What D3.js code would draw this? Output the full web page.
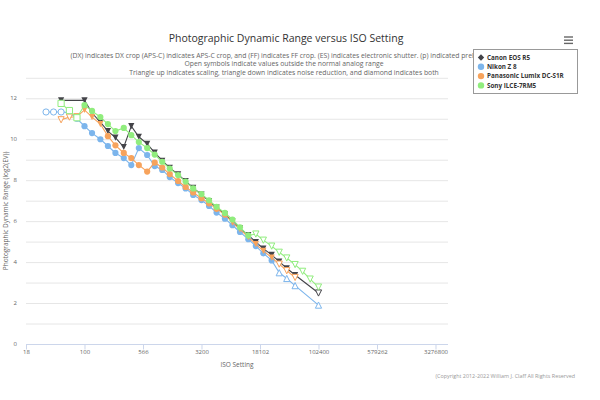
<!DOCTYPE html>
<html><head><meta charset="utf-8">
<script src="https://cdn.jsdelivr.net/npm/d3@7"></script>
<style>
html,body{margin:0;padding:0;background:#fff;}
svg{display:block;font-family:"Open Sans","DejaVu Sans",sans-serif;}
</style></head>
<body><svg id="c" width="600" height="400"></svg>
<script>
// ---------- data ----------
const isoSettings = [32,40,50,64,80,100,125,160,200,250,320,400,500,640,800,1000,1250,1600,2000,2500,3200,4000,5000,6400,8000,10000,12800,16000,20000,25600,32000,40000,51200,64000,80000,102400];

const seriesNames = ["Canon EOS R5","Nikon Z 8","Panasonic Lumix DC-S1R","Sony ILCE-7RM5"];
const seriesColors = ["#434348","#7cb5ec","#f7a35c","#90ed7d"];
const legendSymbols = ["d","c","c","c"];

const canonPDR = [null,null,11.9,null,null,11.9,11.28,10.84,10.4,10.08,9.62,10.64,10.12,9.77,9.35,8.95,8.6,8.28,7.95,7.62,7.3,6.98,6.66,6.33,6.0,5.65,5.32,4.98,4.66,4.35,4.02,3.7,3.37,null,null,2.49];
const canonMarks = [null,null,"td","","","td","td","td","td","td","td","td","td","td","td","td","td","td","td","td","td","td","td","td","td","td","td","td","td","td","td","td","td","","","otd"];

const nikonPDR = [11.33,11.33,11.33,11.3,11.0,10.64,10.3,10.0,9.67,9.33,9.08,8.74,9.57,9.23,8.69,8.5,8.15,7.86,7.6,7.28,7.03,6.74,6.42,6.12,5.8,5.47,5.12,4.78,4.43,4.08,3.48,3.2,2.85,null,null,1.9];
const nikonMarks = ["oc","oc","oc","c","c","c","c","c","c","c","c","c","c","c","c","c","c","c","c","c","c","c","c","c","c","c","c","c","c","c","otu","otu","otu","","","otu"];

const panasonicPDR = [null,null,10.95,11.08,11.1,11.43,11.08,10.74,10.15,9.7,9.33,9.08,8.74,8.42,8.86,8.62,8.3,7.96,7.67,7.4,7.12,6.87,6.6,6.32,5.93,5.6,5.22,4.88,4.55,4.22,3.9,3.58,3.25,null,null,null];
const panasonicMarks = ["","","otd","otd","otd","td","td","td","c","c","c","c","c","c","c","c","c","c","c","c","c","c","c","c","td","td","td","td","td","td","otd","otd","otd","","",""];

const sonyPDR = [null,null,11.75,11.4,11.05,11.67,11.38,11.08,10.74,10.4,10.55,10.2,9.86,9.57,9.25,8.9,8.57,8.25,7.93,7.6,7.32,7.02,6.7,6.4,6.08,5.7,5.3,5.37,5.07,4.78,4.48,4.2,3.88,3.55,3.17,2.78];
const sonyMarks = ["","","os","os","os","c","c","c","c","c","c","c","c","c","c","c","c","c","c","c","c","c","c","c","c","c","c","otd","otd","otd","otd","otd","otd","otd","otd","otd"];

const xTickValues = [17.68,100,565.7,3200,18101.9,102400,579262.4,3276800];
const xTickLabels = ["18","100","566","3200","18102","102400","579262","3276800"];
const yTickValues = [0,1,2,3,4,5,6,7,8,9,10,11,12,13];
const yTickLabels = ["0","","2","","4","","6","","8","","10","","12",""];

const titleText = "Photographic Dynamic Range versus ISO Setting";
const subtitleLines = [
 "(DX) indicates DX crop (APS-C) indicates APS-C crop, and (FF) indicates FF crop. (ES) indicates electronic shutter. (p) indicated preliminary",
 "Open symbols indicate values outside the normal analog range",
 "Triangle up indicates scaling, triangle down indicates noise reduction, and diamond indicates both"
];
const xAxisTitle = "ISO Setting";
const yAxisTitle = "Photographic Dynamic Range (log2(EV))";
const creditText = "(Copyright 2012-2022 William J. Claff All Rights Reserved";

// ---------- chart ----------
const svg = d3.select("#c");
const plot = {left:26, right:448, top:77.8, bottom:344};

const x = d3.scaleLog().domain([17.68, 17.68*Math.pow(2, (plot.right-plot.left)/23.4)]).range([plot.left, plot.right]);
const y = d3.scaleLinear().domain([0,13]).range([plot.bottom, plot.top]);

// grid
svg.append("g").selectAll("line").data(yTickValues).join("line")
  .attr("x1",plot.left).attr("x2",plot.right)
  .attr("y1",d=>y(d)+0.5).attr("y2",d=>y(d)+0.5)
  .attr("stroke","#e6e6e6").attr("stroke-width",1);

// y labels
svg.append("g").selectAll("text").data(yTickValues).join("text")
  .attr("x",17).attr("y",d=>y(d)+2).attr("text-anchor","end")
  .attr("font-size","6px").attr("fill","#666")
  .text((d,i)=>yTickLabels[i]);

// x axis
const xAxis = d3.axisBottom(x).tickValues(xTickValues).tickFormat((d,i)=>xTickLabels[i]).tickSize(5).tickSizeOuter(0);
const gx = svg.append("g").attr("transform",`translate(0,${plot.bottom+0.5})`).call(xAxis);
gx.select(".domain").attr("stroke","#ccd6eb").attr("d",`M${plot.left},0H${plot.right}`);
gx.selectAll(".tick line").attr("stroke","#ccd6eb");
gx.selectAll(".tick text").attr("font-size","6px").attr("fill","#666").attr("font-family","Open Sans, sans-serif").attr("dy","0.2em");

// axis titles
svg.append("text").attr("x",(plot.left+plot.right)/2).attr("y",367).attr("text-anchor","middle")
  .attr("font-size","6.5px").attr("fill","#666").text(xAxisTitle);
svg.append("text").attr("transform",`translate(8,${(plot.top+plot.bottom)/2}) rotate(-90)`)
  .attr("text-anchor","middle").attr("font-size","6.5px").attr("fill","#666").text(yAxisTitle);

// series
const allData = [canonPDR, nikonPDR, panasonicPDR, sonyPDR];
const allMarks = [canonMarks, nikonMarks, panasonicMarks, sonyMarks];

function symbolPath(kind, r){
  const k = kind.replace(/^o/,"");
  if(k==="c") return d3.symbol().type(d3.symbolCircle).size(Math.PI*r*r)();
  if(k==="s") return `M${-r},${-r}H${r}V${r}H${-r}Z`;
  if(k==="tu") return `M0,${-r}L${r},${r}L${-r},${r}Z`;
  if(k==="td") return `M${-r},${-r}L${r},${-r}L0,${r}Z`;
  if(k==="d") return `M0,${-r}L${r},0L0,${r}L${-r},0Z`;
  return "";
}

const line = d3.line().x(d=>x(d.iso)).y(d=>y(d.v));

allData.forEach((vals, si)=>{
  const pts = isoSettings.map((iso,i)=>({iso, v:vals[i], m:allMarks[si][i]})).filter(d=>d.v!==null);
  const g = svg.append("g");
  g.append("path").datum(pts).attr("d",line).attr("fill","none")
    .attr("stroke",seriesColors[si]).attr("stroke-width",1.1);
  g.selectAll("path.m").data(pts).join("path").attr("class","m")
    .attr("transform",d=>`translate(${x(d.iso)},${y(d.v)})`)
    .attr("d",d=>symbolPath(d.m||"c", 3.1))
    .attr("fill",d=>d.m && d.m[0]==="o" ? "#fff" : seriesColors[si])
    .attr("stroke",d=>d.m && d.m[0]==="o" ? seriesColors[si] : "none")
    .attr("stroke-width",1);
});

// title & subtitle
svg.append("text").attr("x",286).attr("y",42).attr("text-anchor","middle")
  .attr("font-size","10.5px").attr("fill","#333").text(titleText);
svg.append("g").selectAll("text").data(subtitleLines).join("text")
  .attr("x",284).attr("y",(d,i)=>57.5+i*8.5).attr("text-anchor","middle")
  .attr("font-size","6.8px").attr("fill","#666").text(d=>d);

// legend
const lg = svg.append("g");
lg.append("rect").attr("x",473.5).attr("y",49.5).attr("width",104).attr("height",44)
  .attr("fill","#fff").attr("stroke","#999").attr("stroke-width",1);
seriesNames.forEach((n,i)=>{
  const yy = 57.5 + i*9.3;
  lg.append("path").attr("transform",`translate(481,${yy})`).attr("d",symbolPath(legendSymbols[i],3.2)).attr("fill",seriesColors[i]);
  lg.append("text").attr("x",487).attr("y",yy+2.2).attr("font-size","6.3px").attr("font-weight","bold").attr("fill","#333").text(n);
});

// menu icon
svg.append("g").selectAll("line").data([0,1,2]).join("line")
  .attr("x1",564).attr("x2",573).attr("y1",d=>37+d*3.2).attr("y2",d=>37+d*3.2)
  .attr("stroke","#666").attr("stroke-width",1.4);

// credit
svg.append("text").attr("x",575).attr("y",378).attr("text-anchor","end")
  .attr("font-size","5.4px").attr("fill","#999").text(creditText);
</script>
</body></html>
